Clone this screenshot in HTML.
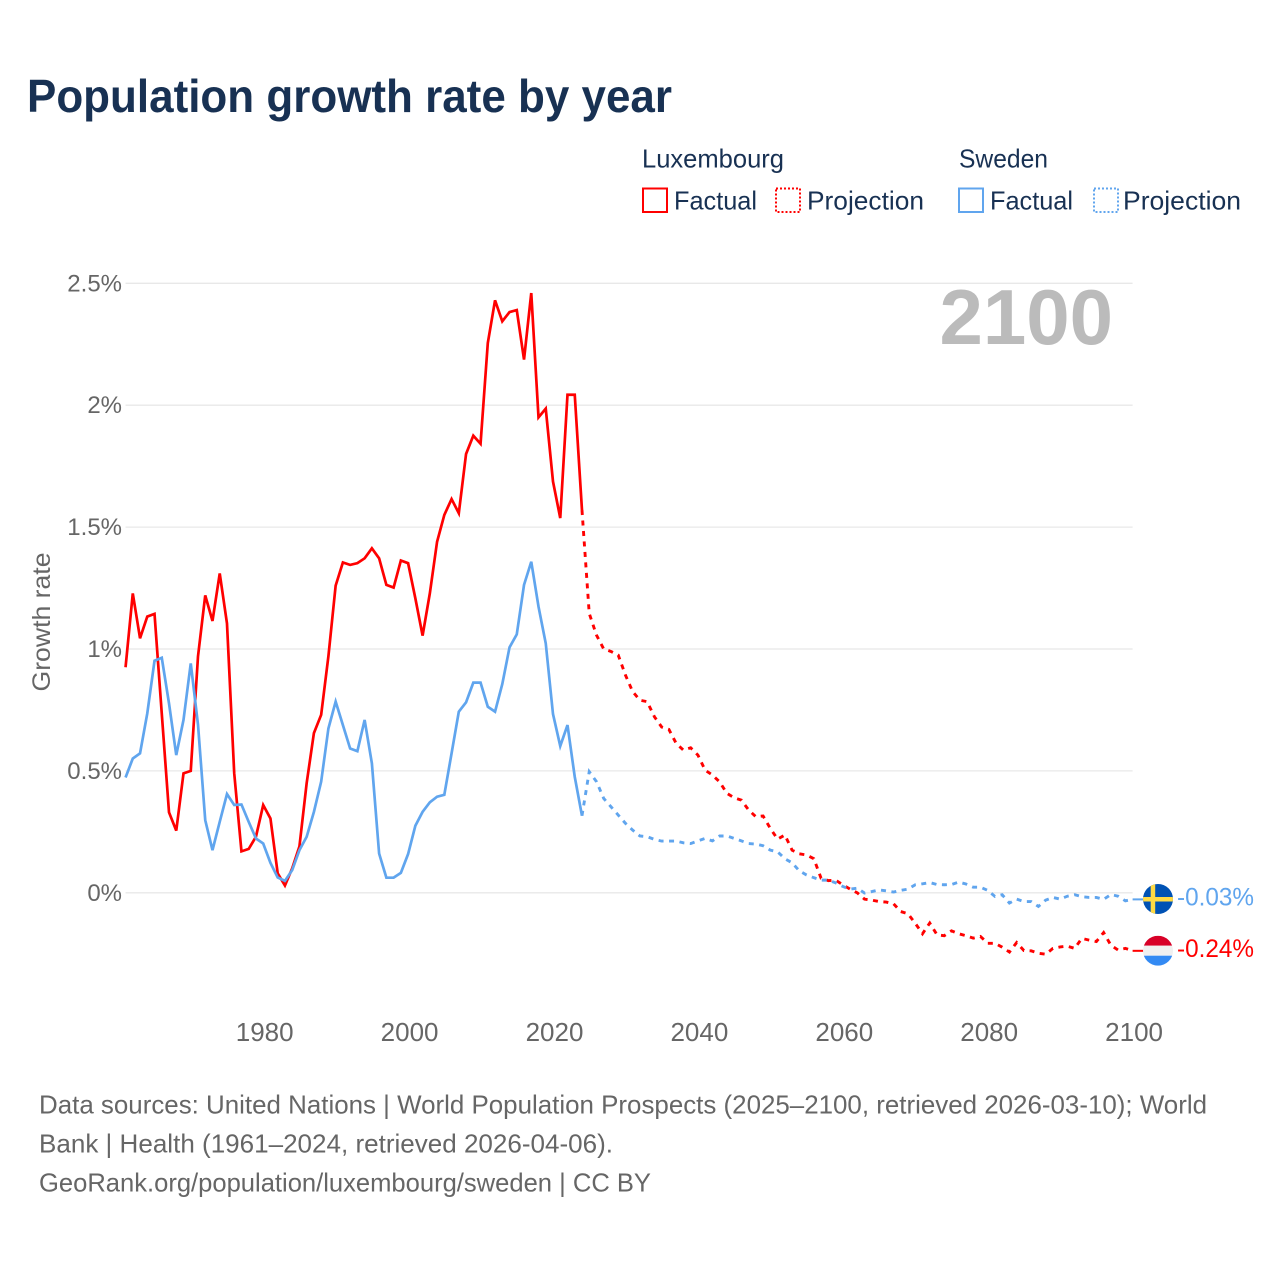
<!DOCTYPE html>
<html lang="en">
<head>
<meta charset="utf-8">
<title>Population growth rate by year</title>
<style>
html,body{margin:0;padding:0;background:#fff;}
svg{display:block;font-family:"Liberation Sans",sans-serif;}
</style>
</head>
<body>
<svg id="chart" xmlns="http://www.w3.org/2000/svg" width="1280" height="1280" viewBox="0 0 1280 1280">
  <rect x="0" y="0" width="1280" height="1280" fill="#ffffff"/>
  <text x="27" y="112" font-size="46" font-weight="700" fill="#183153" textLength="645" lengthAdjust="spacingAndGlyphs">Population growth rate by year</text>

  <g fill="#183153" font-size="26">
    <text x="642" y="167.5" textLength="142" lengthAdjust="spacingAndGlyphs">Luxembourg</text>
    <text x="959" y="167.5" textLength="89" lengthAdjust="spacingAndGlyphs">Sweden</text>
    <rect x="643" y="188.5" width="24" height="23.5" fill="none" stroke="#ff0000" stroke-width="2"/>
    <text x="674" y="209.5" textLength="83" lengthAdjust="spacingAndGlyphs">Factual</text>
    <rect x="776" y="188.5" width="24" height="23.5" fill="none" stroke="#ff0000" stroke-width="2" stroke-dasharray="2 2"/>
    <text x="807" y="209.5" textLength="117" lengthAdjust="spacingAndGlyphs">Projection</text>
    <rect x="959" y="188.5" width="24" height="23.5" fill="none" stroke="#60a5ee" stroke-width="2"/>
    <text x="990" y="209.5" textLength="83" lengthAdjust="spacingAndGlyphs">Factual</text>
    <rect x="1094" y="188.5" width="24" height="23.5" fill="none" stroke="#60a5ee" stroke-width="2" stroke-dasharray="2 2"/>
    <text x="1123" y="209.5" textLength="118" lengthAdjust="spacingAndGlyphs">Projection</text>
  </g>

  <g id="grid"></g>
  <g id="yticks"></g>
  <g id="xticks"></g>

  <text transform="translate(50,622) rotate(-90)" text-anchor="middle" font-size="25" fill="#666666" textLength="139" lengthAdjust="spacingAndGlyphs">Growth rate</text>
  <text x="1113" y="344" text-anchor="end" font-size="78" font-weight="700" fill="#bbbbbb">2100</text>

  <g id="series"></g>
  <g id="ends"></g>

  <defs>
    <clipPath id="flag-clip-se"><circle cx="1158" cy="899" r="15"/></clipPath>
    <clipPath id="flag-clip-lu"><circle cx="1158" cy="950.7" r="15"/></clipPath>
  </defs>
  <g clip-path="url(#flag-clip-se)">
    <rect x="1143" y="884" width="30" height="30" fill="#0052b4"/>
    <rect x="1143" y="897" width="30" height="4.5" fill="#ffda44"/>
    <rect x="1150.7" y="884" width="4.5" height="30" fill="#ffda44"/>
  </g>
  <g clip-path="url(#flag-clip-lu)">
    <rect x="1143" y="935.7" width="30" height="10" fill="#d80027"/>
    <rect x="1143" y="945.7" width="30" height="10" fill="#f0f0f0"/>
    <rect x="1143" y="955.7" width="30" height="10" fill="#338af3"/>
  </g>

  <g font-size="26" fill="#666666">
    <text x="39" y="1113.5" textLength="1168" lengthAdjust="spacingAndGlyphs">Data sources: United Nations | World Population Prospects (2025–2100, retrieved 2026-03-10); World</text>
    <text x="39" y="1152.5" textLength="574" lengthAdjust="spacingAndGlyphs">Bank | Health (1961–2024, retrieved 2026-04-06).</text>
    <text x="39" y="1191.5" textLength="612" lengthAdjust="spacingAndGlyphs">GeoRank.org/population/luxembourg/sweden | CC BY</text>
  </g>
</svg>
<script>
const factualStartYear = 1961;
const projectionStartYear = 2024;
const yTickValues = [0, 0.5, 1, 1.5, 2, 2.5];
const yTickLabels = ["0%", "0.5%", "1%", "1.5%", "2%", "2.5%"];
const xTickYears = [1980, 2000, 2020, 2040, 2060, 2080, 2100];

const luxembourgFactual = [
  0.925,1.228,1.044,1.133,1.144,0.735,0.33,0.255,0.49,0.50,
  0.97,1.22,1.115,1.31,1.105,0.49,0.17,0.18,0.23,0.36,
  0.305,0.08,0.03,0.10,0.19,0.45,0.655,0.73,0.97,1.26,
  1.355,1.345,1.352,1.372,1.413,1.372,1.263,1.252,1.363,1.352,
  1.208,1.055,1.228,1.44,1.55,1.615,1.557,1.80,1.875,1.842,
  2.255,2.43,2.344,2.382,2.39,2.187,2.46,1.95,1.986,1.687,
  1.537,2.043,2.043,1.57
];
const swedenFactual = [
  0.473,0.551,0.572,0.736,0.952,0.964,0.777,0.565,0.709,0.941,
  0.69,0.298,0.175,0.291,0.405,0.36,0.362,0.291,0.223,0.202,
  0.123,0.063,0.049,0.093,0.175,0.23,0.332,0.456,0.674,0.784,
  0.688,0.592,0.581,0.709,0.531,0.161,0.062,0.062,0.082,0.159,
  0.275,0.332,0.371,0.394,0.402,0.572,0.743,0.781,0.862,0.862,
  0.763,0.743,0.856,1.007,1.06,1.263,1.358,1.174,1.023,0.733,
  0.602,0.688,0.476,0.316
];
const luxembourgProjection = [
  1.57,1.146,1.057,1.0,0.99,0.975,0.893,0.825,0.79,0.784,
  0.722,0.68,0.67,0.613,0.585,0.595,0.565,0.503,0.483,0.455,
  0.408,0.39,0.38,0.34,0.312,0.315,0.264,0.22,0.237,0.175,
  0.16,0.155,0.14,0.06,0.05,0.052,0.033,0.015,0.0,-0.026,
  -0.03,-0.036,-0.038,-0.045,-0.077,-0.086,-0.125,-0.168,-0.124,-0.172,
  -0.176,-0.156,-0.168,-0.176,-0.186,-0.179,-0.207,-0.207,-0.223,-0.243,
  -0.204,-0.237,-0.238,-0.248,-0.252,-0.228,-0.222,-0.219,-0.228,-0.187,
  -0.194,-0.20,-0.163,-0.215,-0.235,-0.228,-0.238
];
const swedenProjection = [
  0.316,0.497,0.456,0.387,0.353,0.319,0.285,0.257,0.233,0.23,
  0.219,0.212,0.212,0.212,0.205,0.202,0.213,0.223,0.213,0.233,
  0.233,0.223,0.213,0.202,0.2,0.193,0.175,0.168,0.14,0.123,
  0.09,0.073,0.062,0.052,0.052,0.041,0.026,0.015,0.019,-0.001,
  0.005,0.012,0.008,0.003,0.01,0.015,0.033,0.037,0.042,0.034,
  0.033,0.034,0.044,0.036,0.023,0.023,0.01,-0.015,-0.008,-0.042,
  -0.026,-0.036,-0.036,-0.056,-0.03,-0.019,-0.026,-0.014,-0.008,-0.016,
  -0.019,-0.019,-0.027,-0.007,-0.014,-0.033,-0.027
];
const endValueLabels = ["-0.24%", "-0.03%"];

const SVG_NS = "http://www.w3.org/2000/svg";
function xScale(year) { return 553 + (year - 2020) * 7.245; }
function yScale(value) { return 892.8 - value * 243.8; }
function linePath(values, startYear) {
  return values.map(function (v, i) {
    return (i ? "L" : "M") + xScale(startYear + i).toFixed(2) + " " + yScale(v).toFixed(2);
  }).join(" ");
}

const grid = document.getElementById("grid");
const yticks = document.getElementById("yticks");
yTickValues.forEach(function (v, i) {
  const line = document.createElementNS(SVG_NS, "line");
  
  
  line.setAttribute("x1", xScale(factualStartYear));
  line.setAttribute("x2", xScale(2100));
  line.setAttribute("y1", yScale(v));
  line.setAttribute("y2", yScale(v));
  line.setAttribute("stroke", "#e8e8e8");
  line.setAttribute("stroke-width", "1.3");
  grid.appendChild(line);

  const t = document.createElementNS(SVG_NS, "text");
  
  
  t.setAttribute("x", 122);
  t.setAttribute("y", yScale(v) + 8);
  t.setAttribute("text-anchor", "end");
  t.setAttribute("font-size", "24");
  t.setAttribute("fill", "#666666");
  t.textContent = yTickLabels[i];
  yticks.appendChild(t);
});

const xticks = document.getElementById("xticks");
xTickYears.forEach(function (yr) {
  const t = document.createElementNS(SVG_NS, "text");
  
  
  t.setAttribute("x", xScale(yr) + 1.5);
  t.setAttribute("y", 1041);
  t.setAttribute("text-anchor", "middle");
  t.setAttribute("font-size", "26");
  t.setAttribute("fill", "#666666");
  t.textContent = String(yr);
  xticks.appendChild(t);
});

const seriesGroup = document.getElementById("series");
function addLine(d, color, dashed, name) {
  const p = document.createElementNS(SVG_NS, "path");
  
  
  p.setAttribute("d", d);
  p.setAttribute("fill", "none");
  p.setAttribute("stroke", color);
  p.setAttribute("stroke-width", dashed ? "2.9" : "2.7");
  p.setAttribute("stroke-linejoin", "miter");
  if (dashed) p.setAttribute("stroke-dasharray", "5 5.5");
  seriesGroup.appendChild(p);
}
const RED = "#ff0000";
const BLUE = "#60a5ee";
addLine(linePath(luxembourgFactual, factualStartYear), RED, false, "luxembourg-factual-line");
addLine(linePath(luxembourgProjection, projectionStartYear), RED, true, "luxembourg-projection-line");
addLine(linePath(swedenFactual, factualStartYear), BLUE, false, "sweden-factual-line");
addLine(linePath(swedenProjection, projectionStartYear), BLUE, true, "sweden-projection-line");

const ends = document.getElementById("ends");
[
  {values: luxembourgProjection, color: RED, label: endValueLabels[0]},
  {values: swedenProjection, color: BLUE, label: endValueLabels[1]}
].forEach(function (s) {
  const last = s.values[s.values.length - 1];
  const y = yScale(last);
  const c = document.createElementNS(SVG_NS, "line");
  
  
  c.setAttribute("x1", xScale(2100));
  c.setAttribute("x2", xScale(2100) + 12);
  c.setAttribute("y1", y);
  c.setAttribute("y2", y);
  c.setAttribute("stroke", s.color);
  c.setAttribute("stroke-width", "2");
  ends.appendChild(c);

  const t = document.createElementNS(SVG_NS, "text");
  
  
  t.setAttribute("x", 1177);
  t.setAttribute("y", y + 6);
  t.setAttribute("font-size", "25");
  t.setAttribute("fill", s.color);
  t.setAttribute("textLength", "77");
  t.setAttribute("lengthAdjust", "spacingAndGlyphs");
  t.textContent = s.label;
  ends.appendChild(t);
});
</script>
</body>
</html>
